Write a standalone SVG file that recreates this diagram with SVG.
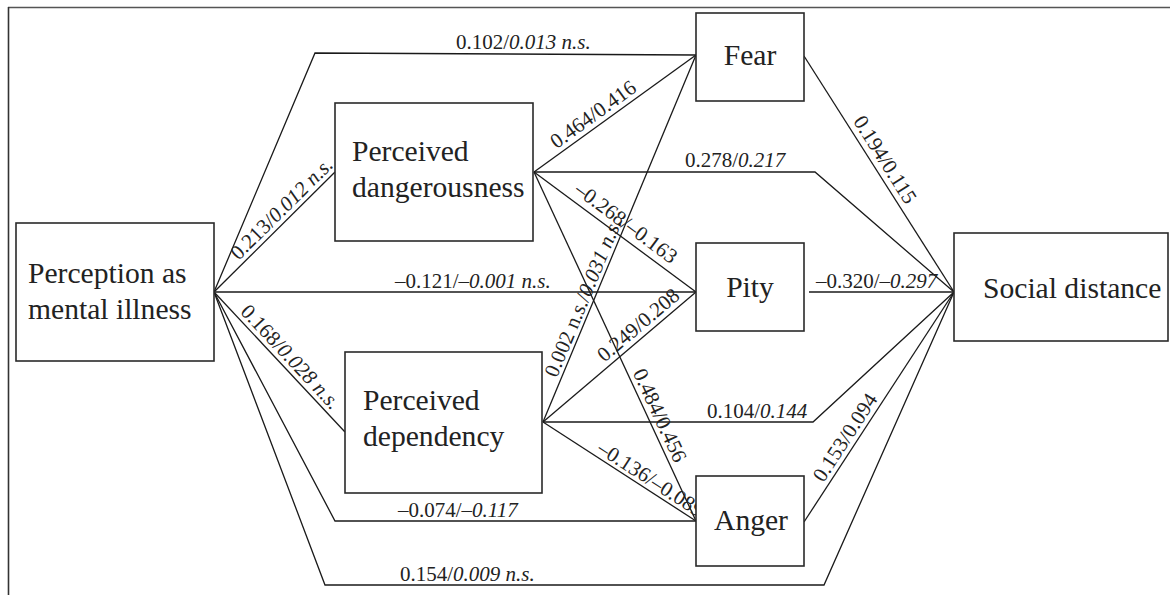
<svg xmlns="http://www.w3.org/2000/svg" width="1170" height="595" viewBox="0 0 1170 595">
<style>
.box{fill:#fff;stroke:#2a2a2a;stroke-width:1.6}
.node{font-family:"Liberation Serif","Times New Roman",serif;font-size:29.6px;fill:#222}
.lbl{font-family:"Liberation Serif","Times New Roman",serif;font-size:21px;fill:#222}
.it{font-style:italic}
.con{fill:none;stroke:#1a1a1a;stroke-width:1.3;stroke-linejoin:miter}
.frame{stroke:#555;stroke-width:1.6;fill:none}
</style>
<rect width="1170" height="595" fill="#fff"/>
<g id="frame">
<line class="frame" x1="8" y1="7.5" x2="1170" y2="7.5"/>
<line class="frame" x1="8.5" y1="7" x2="8.5" y2="595" style="stroke:#333"/>
</g>
<g id="connectors">
<polyline class="con" points="214,292 315,53 696,55"/>
<line class="con" x1="214" y1="292" x2="335" y2="172"/>
<line class="con" x1="214" y1="292" x2="696" y2="292"/>
<line class="con" x1="214" y1="292" x2="345" y2="432"/>
<polyline class="con" points="214,292 335,521 696,521"/>
<polyline class="con" points="214,292 325,585 824,585 954,292"/>
<line class="con" x1="534" y1="172" x2="696" y2="55"/>
<polyline class="con" points="534,172 815,172 954,292"/>
<line class="con" x1="534" y1="172" x2="696" y2="292"/>
<line class="con" x1="534" y1="172" x2="696" y2="521"/>
<line class="con" x1="543" y1="422" x2="696" y2="55"/>
<line class="con" x1="543" y1="422" x2="696" y2="292"/>
<polyline class="con" points="543,422 813,422 954,292"/>
<line class="con" x1="543" y1="422" x2="696" y2="521"/>
<line class="con" x1="804" y1="56" x2="954" y2="292"/>
<line class="con" x1="809" y1="292" x2="954" y2="292"/>
<line class="con" x1="804" y1="522" x2="954" y2="292"/>
</g>
<g id="labels">
<text class="lbl" x="456" y="49">0.102/<tspan class="it">0.013 n.s.</tspan></text>
<text class="lbl" x="685" y="167">0.278/<tspan class="it">0.217</tspan></text>
<text class="lbl" x="395" y="288">–0.121/<tspan class="it">–0.001 n.s.</tspan></text>
<text class="lbl" x="816" y="288">–0.320/<tspan class="it">–0.297</tspan></text>
<text class="lbl" x="707" y="418">0.104/<tspan class="it">0.144</tspan></text>
<text class="lbl" x="398" y="517">–0.074/<tspan class="it">–0.117</tspan></text>
<text class="lbl" x="400" y="581">0.154/<tspan class="it">0.009 n.s.</tspan></text>
<text class="lbl" text-anchor="middle" transform="translate(290,217) rotate(-44.8)" y="-5">0.213/<tspan class="it">0.012 n.s.</tspan></text>
<text class="lbl" text-anchor="middle" transform="translate(282,365) rotate(46.9)" y="-5">0.168/<tspan class="it">0.028 n.s.</tspan></text>
<text class="lbl" text-anchor="middle" transform="translate(600,124) rotate(-35.8)" y="-5">0.464/0.416</text>
<text class="lbl" text-anchor="middle" transform="translate(618,234) rotate(36.5)" y="-7">–0.268/–0.163</text>
<text class="lbl" text-anchor="middle" transform="translate(593,302) rotate(-67.4)" y="-4">0.002 n.s./<tspan class="it">0.031 n.s.</tspan></text>
<text class="lbl" text-anchor="middle" transform="translate(646,334) rotate(-40.4)" y="-5">0.249/0.208</text>
<text class="lbl" text-anchor="middle" transform="translate(650,420) rotate(65.1)" y="-4">0.484/0.456</text>
<text class="lbl" text-anchor="middle" transform="translate(645,488) rotate(32.9)" y="-4">–0.136/–0.089</text>
<text class="lbl" text-anchor="middle" transform="translate(875,166) rotate(57.7)" y="-5">0.194/0.115</text>
<text class="lbl" text-anchor="middle" transform="translate(855,444) rotate(-56.9)" y="-5">0.153/0.094</text>
</g>
<g id="perception">
<rect class="box" x="16" y="223" width="198" height="138"/>
<text class="node" x="28" y="283">Perception as</text>
<text class="node" x="28" y="319">mental illness</text>
</g>
<g id="dangerousness">
<rect class="box" x="335" y="103" width="198" height="138"/>
<text class="node" x="352" y="161">Perceived</text>
<text class="node" x="352" y="197">dangerousness</text>
</g>
<g id="dependency">
<rect class="box" x="345" y="352" width="197" height="141"/>
<text class="node" x="363" y="410">Perceived</text>
<text class="node" x="363" y="446">dependency</text>
</g>
<g id="fear">
<rect class="box" x="696" y="13" width="108" height="88"/>
<text class="node" x="750" y="65" text-anchor="middle">Fear</text>
</g>
<g id="pity">
<rect class="box" x="696" y="243" width="108" height="88"/>
<text class="node" x="750" y="297" text-anchor="middle">Pity</text>
</g>
<g id="anger">
<rect class="box" x="696" y="476" width="108" height="90"/>
<text class="node" x="751" y="530" text-anchor="middle">Anger</text>
</g>
<g id="social">
<rect class="box" x="954" y="233" width="214" height="108"/>
<text class="node" x="983" y="298">Social distance</text>
</g>
</svg>
